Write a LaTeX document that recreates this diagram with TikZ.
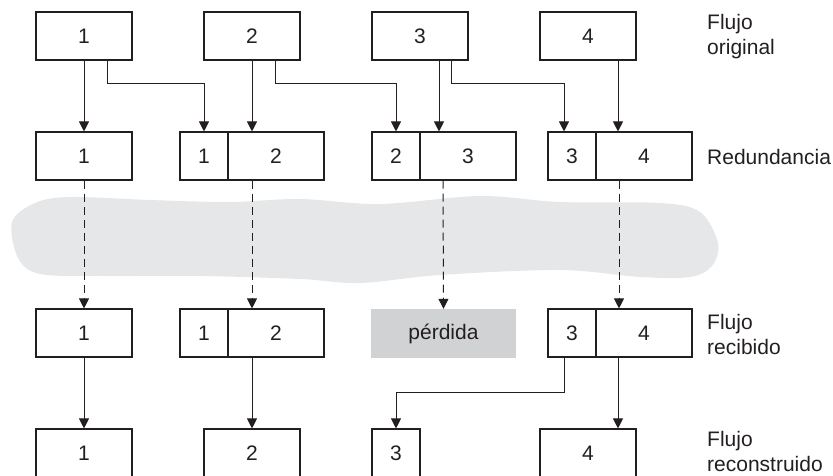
\documentclass[tikz,border=0pt]{standalone}
\usepackage{fontspec}
\setmainfont{Liberation Sans}
\usetikzlibrary{arrows.meta}
\definecolor{ink}{HTML}{231F20}
\definecolor{cloudgray}{HTML}{E6E7E8}
\definecolor{lossgray}{HTML}{D1D2D4}
\begin{document}
\begin{tikzpicture}[x=1pt,y=-1pt,
  font=\fontsize{21}{25}\selectfont, text=ink,
  box/.style={draw=ink, line width=1.1pt, minimum height=48pt, inner sep=0pt, minimum width=#1},
  box/.default=96pt,
  lossbox/.style={fill=lossgray, minimum width=145pt, minimum height=49pt, inner sep=0pt},
  lbl/.style={anchor=west, align=left, inner sep=0pt},
  arr/.style={draw=ink, line width=1pt, -{Triangle[length=10pt,width=10pt]}},
  darr/.style={arr, dash pattern=on 8pt off 5pt}]
\useasboundingbox (0,0) rectangle (833,476);
\clip (0,0) rectangle (833,476);
% cloud
\fill[cloudgray] plot[smooth cycle, tension=0.55] coordinates {
 (12,222) (35,203) (70,197) (150,200) (230,202) (300,199) (380,204) (480,196)
 (560,202) (660,203) (700,212) (718,243) (712,266) (690,277) (640,277)
 (560,270) (440,275) (360,283) (300,279) (200,276) (100,276) (40,274) (18,258)};
% row 1
\node[box] (o1) at (84,36) {1};
\node[box] (o2) at (252,36) {2};
\node[box] (o3) at (420,36) {3};
\node[box] (o4) at (588,36) {4};
% row 2
\node[box] (r1) at (84,156) {1};
\node[box=48pt] (r2a) at (204,156) {1};
\node[box] (r2b) at (276,156) {2};
\node[box=48pt] (r3a) at (396,156) {2};
\node[box] (r3b) at (468,156) {3};
\node[box=48pt] (r4a) at (572,156) {3};
\node[box] (r4b) at (644,156) {4};
% row 3
\node[box] (d1) at (84,333) {1};
\node[box=48pt] (d2a) at (204,333) {1};
\node[box] (d2b) at (276,333) {2};
\node[lossbox] (loss) at (443.5,333.5) {pérdida};
\node[box=48pt] (d4a) at (572,333) {3};
\node[box] (d4b) at (644,333) {4};
% row 4
\node[box] (f1) at (84,453) {1};
\node[box] (f2) at (252,453) {2};
\node[box=48pt] (f3) at (396,453) {3};
\node[box] (f4) at (588,453) {4};
% labels
\node[lbl] (l1) at (707,37) {Flujo\\original};
\node[lbl] (l2) at (707,157) {Redundancia};
\node[lbl] (l3) at (707,334) {Flujo\\recibido};
\node[lbl] (l4) at (707,451) {Flujo\\reconstruido};
% row 1 -> row 2
\draw[arr] (o1.south) -- (r1.north);
\draw[arr] ([xshift=23.5pt]o1.south) |- ([yshift=48pt]r2a.north) -- (r2a.north);
\draw[arr] (o2.south) -- (o2.south |- r2b.north);
\draw[arr] ([xshift=23.5pt]o2.south) |- ([yshift=48pt]r3a.north) -- (r3a.north);
\draw[arr] ([xshift=19pt]o3.south) -- ([xshift=19pt]o3.south |- r3b.north);
\draw[arr] ([xshift=31.5pt]o3.south) |- ([xshift=-8pt,yshift=48pt]r4a.north) -- ([xshift=-8pt]r4a.north);
\draw[arr] ([xshift=30pt]o4.south) -- ([xshift=30pt]o4.south |- r4b.north);
% row 2 -> row 3 (dashed)
\draw[darr] (r1.south) -- (d1.north);
\draw[darr] ([xshift=-24pt]r2b.south) -- ([xshift=-24pt]d2b.north);
\draw[darr] ([xshift=-25pt]r3b.south) -- (loss.north);
\draw[darr] ([xshift=-25pt]r4b.south) -- ([xshift=-25pt]d4b.north);
% row 3 -> row 4
\draw[arr] (d1.south) -- (f1.north);
\draw[arr] ([xshift=-24pt]d2b.south) -- (f2.north);
\draw[arr] ([xshift=-8pt]d4a.south) |- ([yshift=36pt]f3.north) -- (f3.north);
\draw[arr] ([xshift=-26pt]d4b.south) -- ([xshift=30pt]f4.north);
\end{tikzpicture}
\end{document}
